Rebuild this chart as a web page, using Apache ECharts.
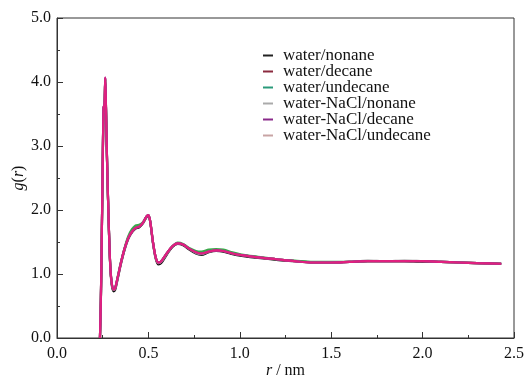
<!DOCTYPE html>
<html>
<head>
<meta charset="utf-8">
<script src="https://cdn.jsdelivr.net/npm/echarts@6/dist/echarts.min.js"></script>
<style>
  html, body { margin: 0; padding: 0; background: #fff; }
  #chart { width: 531px; height: 377px; }
</style>
</head>
<body>
<div id="chart"></div>
<script>
// r in nm
const rValues = [0.235, 0.240, 0.245, 0.250, 0.255, 0.260, 0.264, 0.268, 0.272, 0.278,
  0.285, 0.292, 0.300, 0.310, 0.318, 0.330, 0.350, 0.370, 0.390, 0.410,
  0.430, 0.450, 0.470, 0.490, 0.500, 0.510, 0.525, 0.540, 0.555, 0.570,
  0.600, 0.630, 0.660, 0.690, 0.720, 0.760, 0.790, 0.830, 0.870, 0.910,
  0.960, 1.020, 1.100, 1.200, 1.300, 1.400, 1.500, 1.600, 1.700, 1.800,
  1.900, 2.000, 2.100, 2.200, 2.300, 2.430];

const gWaterNonane = [0.00, 0.58, 1.58, 2.68, 3.58, 3.62, 4.04, 3.58, 2.98, 2.28,
  1.58, 1.08, 0.82, 0.73, 0.75, 0.90, 1.16, 1.38, 1.55, 1.65,
  1.71, 1.73, 1.79, 1.89, 1.91, 1.81, 1.48, 1.24, 1.15, 1.17,
  1.30, 1.42, 1.47, 1.45, 1.39, 1.32, 1.30, 1.34, 1.36, 1.35,
  1.31, 1.28, 1.25, 1.22, 1.20, 1.18, 1.18, 1.19, 1.20, 1.20,
  1.20, 1.19, 1.19, 1.18, 1.17, 1.16];
const gWaterDecane = [0.00, 0.60, 1.60, 2.70, 3.60, 3.64, 4.06, 3.60, 3.00, 2.30,
  1.60, 1.10, 0.84, 0.75, 0.77, 0.92, 1.18, 1.40, 1.57, 1.67,
  1.73, 1.75, 1.80, 1.90, 1.92, 1.82, 1.50, 1.26, 1.17, 1.19,
  1.32, 1.43, 1.48, 1.46, 1.40, 1.34, 1.32, 1.35, 1.37, 1.36,
  1.32, 1.29, 1.26, 1.23, 1.20, 1.18, 1.18, 1.19, 1.20, 1.20,
  1.20, 1.20, 1.19, 1.18, 1.17, 1.16];
const gWaterUndecane = [0.00, 0.60, 1.60, 2.70, 3.60, 3.63, 4.05, 3.60, 3.00, 2.30,
  1.60, 1.10, 0.85, 0.76, 0.78, 0.93, 1.19, 1.41, 1.59, 1.70,
  1.76, 1.77, 1.81, 1.90, 1.92, 1.82, 1.50, 1.26, 1.18, 1.20,
  1.32, 1.43, 1.49, 1.47, 1.41, 1.36, 1.35, 1.38, 1.39, 1.38,
  1.34, 1.30, 1.27, 1.23, 1.21, 1.19, 1.19, 1.19, 1.20, 1.20,
  1.20, 1.20, 1.19, 1.18, 1.17, 1.16];
const gNaClNonane = [0.00, 0.59, 1.59, 2.69, 3.59, 3.64, 4.06, 3.59, 2.99, 2.29,
  1.59, 1.09, 0.84, 0.75, 0.77, 0.91, 1.17, 1.39, 1.56, 1.66,
  1.72, 1.74, 1.80, 1.90, 1.92, 1.82, 1.49, 1.25, 1.17, 1.19,
  1.31, 1.43, 1.48, 1.46, 1.40, 1.33, 1.31, 1.35, 1.37, 1.36,
  1.32, 1.29, 1.26, 1.23, 1.20, 1.18, 1.18, 1.19, 1.21, 1.20,
  1.21, 1.20, 1.19, 1.18, 1.17, 1.16];
const gNaClDecane = [0.00, 0.61, 1.61, 2.71, 3.61, 3.65, 4.07, 3.61, 3.01, 2.31,
  1.61, 1.11, 0.85, 0.76, 0.78, 0.92, 1.18, 1.40, 1.56, 1.66,
  1.72, 1.74, 1.80, 1.90, 1.92, 1.82, 1.50, 1.26, 1.18, 1.20,
  1.32, 1.43, 1.48, 1.46, 1.40, 1.34, 1.32, 1.35, 1.37, 1.36,
  1.32, 1.29, 1.26, 1.23, 1.20, 1.18, 1.18, 1.19, 1.20, 1.20,
  1.20, 1.20, 1.19, 1.18, 1.17, 1.16];
const gNaClUndecane = [0.00, 0.60, 1.60, 2.70, 3.60, 3.65, 4.07, 3.60, 3.00, 2.30,
  1.60, 1.10, 0.85, 0.76, 0.78, 0.92, 1.18, 1.40, 1.56, 1.66,
  1.72, 1.74, 1.80, 1.90, 1.92, 1.82, 1.50, 1.26, 1.18, 1.20,
  1.32, 1.43, 1.48, 1.46, 1.40, 1.34, 1.32, 1.35, 1.37, 1.36,
  1.32, 1.29, 1.26, 1.23, 1.20, 1.18, 1.18, 1.19, 1.20, 1.20,
  1.20, 1.20, 1.19, 1.18, 1.17, 1.16];

const seriesNames = ['water/nonane', 'water/decane', 'water/undecane',
  'water-NaCl/nonane', 'water-NaCl/decane', 'water-NaCl/undecane'];
const seriesData = [gWaterNonane, gWaterDecane, gWaterUndecane,
  gNaClNonane, gNaClDecane, gNaClUndecane];
const lineColors = ['#111111', '#c03048', '#3aa84a', '#999999', '#9020a0', '#e0207f'];
const legendColors = ['#222222', '#8b2a3e', '#2a9a7a', '#aaaaaa', '#8a2a8a', '#c8a4a4'];

const serif = '"Liberation Serif", "DejaVu Serif", serif';

const chart = echarts.init(document.getElementById('chart'), null, { renderer: 'canvas' });

const option = {
  animation: false,
  backgroundColor: '#fff',
  grid: {
    left: 57, right: 17, top: 18, bottom: 39,
    containLabel: false,
    outerBoundsMode: 'none',
    show: true, borderColor: '#333', borderWidth: 1
  },
  legend: {
    orient: 'vertical',
    left: 263,
    top: 47,
    padding: 0,
    itemGap: -1,
    itemWidth: 10,
    itemHeight: 2,
    icon: 'rect',
    textStyle: { fontFamily: serif, fontSize: 17, lineHeight: 15, color: '#111', padding: [0, 0, 0, 5] },
    data: seriesNames.map((n, i) => ({ name: n, itemStyle: { color: legendColors[i] } }))
  },
  xAxis: {
    type: 'value',
    min: 0, max: 2.5, interval: 0.5,
    name: '{i|r} / nm',
    nameLocation: 'middle',
    nameGap: 25,
    nameMoveOverlap: false,
    nameTextStyle: {
      fontFamily: serif, fontSize: 16, color: '#111',
      rich: { i: { fontFamily: serif, fontSize: 16, fontStyle: 'italic', color: '#111' } }
    },
    axisLine: { show: true, onZero: false, lineStyle: { color: '#333', width: 1 } },
    axisTick: { show: true, inside: true, length: 6, lineStyle: { color: '#333' } },
    minorTick: { show: true, splitNumber: 2, length: 3, lineStyle: { color: '#333' } },
    splitLine: { show: false },
    axisLabel: { fontFamily: serif, fontSize: 16, color: '#111', margin: 8, formatter: v => v.toFixed(1) }
  },
  yAxis: {
    type: 'value',
    min: 0, max: 5, interval: 1,
    name: '{i|g}({i|r})',
    nameLocation: 'middle',
    nameGap: 30,
    nameMoveOverlap: false,
    nameTextStyle: {
      fontFamily: serif, fontSize: 16, color: '#111',
      rich: { i: { fontFamily: serif, fontSize: 16, fontStyle: 'italic', color: '#111' } }
    },
    axisLine: { show: true, onZero: false, lineStyle: { color: '#333', width: 1 } },
    axisTick: { show: true, inside: true, length: 6, lineStyle: { color: '#333' } },
    minorTick: { show: true, splitNumber: 2, length: 3, lineStyle: { color: '#333' } },
    splitLine: { show: false },
    axisLabel: { fontFamily: serif, fontSize: 16, color: '#111', margin: 6, formatter: v => v.toFixed(1) }
  },
  series: seriesNames.map((n, i) => ({
    name: n,
    type: 'line',
    showSymbol: false,
    symbol: 'none',
    smooth: 0.3,
    data: rValues.map((r, k) => [r, seriesData[i][k]]),
    lineStyle: { color: lineColors[i], width: 2.2 },
    itemStyle: { color: lineColors[i] }
  }))
};

chart.setOption(option);
</script>
</body>
</html>
